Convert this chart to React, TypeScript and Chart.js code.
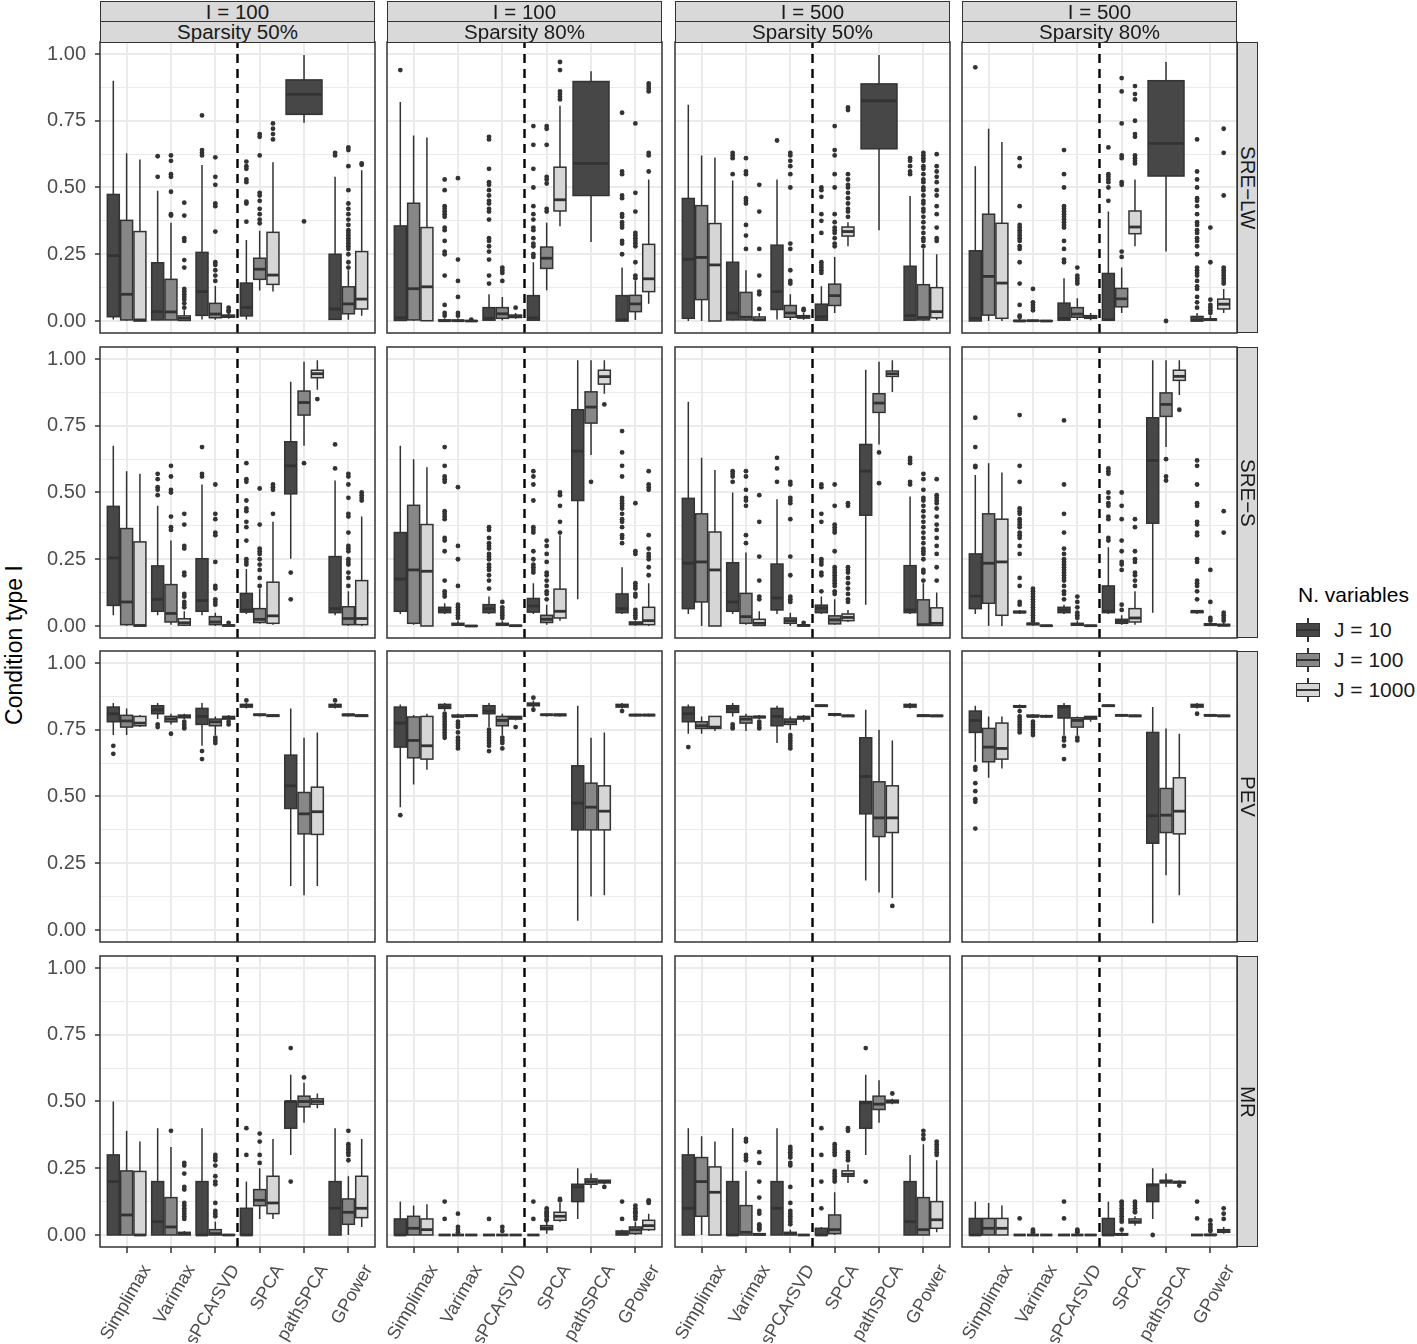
import React, { useEffect, useRef } from 'react';
import { Chart, registerables } from 'chart.js';

Chart.register(...registerables);

const FONT = "'Liberation Sans', Arial, Helvetica, sans-serif";
Chart.defaults.font.family = FONT;

const METHODS = ['Simplimax', 'Varimax', 'sPCArSVD', 'SPCA', 'pathSPCA', 'GPower'];
const GROUPS = ['J = 10', 'J = 100', 'J = 1000'];
const GROUP_FILLS = ['#474747', '#878787', '#D6D6D6'];
const ROW_LABELS = ['SRE\u2212LW', 'SRE\u2212S', 'PEV', 'MR'];
const COL_I = ['I = 100', 'I = 100', 'I = 500', 'I = 500'];
const COL_SPARSITY = ['Sparsity 50%', 'Sparsity 80%', 'Sparsity 50%', 'Sparsity 80%'];
const Y_MAJOR = [0, 0.25, 0.5, 0.75, 1];
const Y_GRID = [0, 0.125, 0.25, 0.375, 0.5, 0.625, 0.75, 0.875, 1];
const DIVIDER_AT = 3.5;

// [lower whisker, Q1, median, Q3, upper whisker, outliers], 3 per method (J = 10, 100, 1000)
type Box = [number, number, number, number, number, number[]] | null;

const sreLw_I100_S50: Box[] = [
  [0.006, 0.016, 0.245, 0.474, 0.9, []], [0, 0.004, 0.1, 0.377, 0.628, []], [0, 0, 0.004, 0.335, 0.605, []],
  [0.003, 0.004, 0.035, 0.218, 0.488, [0.617, 0.54]], [0.003, 0.004, 0.034, 0.156, 0.368, [0.62, 0.6, 0.55, 0.54, 0.484, 0.4, 0.395]], [0, 0.002, 0.01, 0.019, 0.04, [0.443, 0.395, 0.31, 0.3, 0.228, 0.2, 0.12, 0.11, 0.1, 0.09, 0.08, 0.066, 0.05]],
  [0.006, 0.021, 0.11, 0.257, 0.584, [0.77, 0.64, 0.63, 0.62]], [0.005, 0.012, 0.026, 0.066, 0.131, [0.613, 0.54, 0.51, 0.44, 0.43, 0.335, 0.22, 0.21, 0.19, 0.17, 0.15]], [0.008, 0.014, 0.018, 0.022, 0.03, [0.05, 0.04, 0.035]],
  [0.006, 0.019, 0.051, 0.142, 0.303, [0.597, 0.58, 0.57, 0.53, 0.52, 0.447, 0.44, 0.372]], [0.114, 0.156, 0.194, 0.235, 0.338, [0.7, 0.69, 0.62, 0.48, 0.47, 0.45, 0.42, 0.4, 0.38, 0.366]], [0.11, 0.137, 0.172, 0.332, 0.595, [0.74, 0.72, 0.7, 0.68]],
  [0.743, 0.774, 0.849, 0.903, 0.996, [0.373]], null, null,
  [0.005, 0.006, 0.045, 0.25, 0.54, [0.63, 0.62]], [0.005, 0.027, 0.064, 0.128, 0.19, [0.65, 0.64, 0.58, 0.49, 0.44, 0.42, 0.4, 0.38, 0.36, 0.34, 0.33, 0.32, 0.31, 0.3, 0.29, 0.28, 0.27, 0.25, 0.22, 0.2]], [0.02, 0.045, 0.082, 0.26, 0.565, [0.59, 0.585]],
];

const sreLw_I100_S80: Box[] = [
  [0, 0.002, 0.012, 0.356, 0.82, [0.94]], [0, 0.004, 0.121, 0.441, 0.695, []], [0, 0.001, 0.128, 0.35, 0.687, []],
  [0, 0, 0.001, 0.004, 0.01, [0.53, 0.49, 0.43, 0.42, 0.41, 0.4, 0.39, 0.35, 0.34, 0.3, 0.26, 0.25, 0.17, 0.06, 0.03, 0.02]], [0, 0, 0.001, 0.003, 0.01, [0.535, 0.23, 0.15, 0.09, 0.03, 0.02]], [0, 0, 0, 0.001, 0.003, [0.005]],
  [0, 0.003, 0.01, 0.05, 0.1, [0.69, 0.68, 0.57, 0.52, 0.51, 0.49, 0.47, 0.45, 0.44, 0.42, 0.41, 0.38, 0.31, 0.3, 0.28, 0.26, 0.23, 0.17, 0.14]], [0.002, 0.01, 0.027, 0.05, 0.09, [0.2, 0.19, 0.18, 0.15]], [0.008, 0.013, 0.018, 0.022, 0.03, [0.05]],
  [0, 0.003, 0.012, 0.095, 0.22, [0.73, 0.66, 0.57, 0.5, 0.43, 0.4, 0.38, 0.35, 0.34, 0.31, 0.29, 0.28, 0.25, 0.24]], [0.115, 0.197, 0.235, 0.277, 0.368, [0.73, 0.72, 0.66, 0.54, 0.53, 0.515, 0.42, 0.41]], [0.355, 0.412, 0.454, 0.576, 0.806, [0.97, 0.94, 0.86, 0.85, 0.84, 0.83]],
  [0.296, 0.47, 0.59, 0.897, 0.935, []], null, null,
  [0, 0, 0.004, 0.095, 0.2, [0.78, 0.56, 0.55, 0.47, 0.46, 0.4, 0.39, 0.37, 0.36, 0.35, 0.3, 0.29, 0.25]], [0.004, 0.035, 0.064, 0.096, 0.15, [0.74, 0.48, 0.41, 0.33, 0.32, 0.31, 0.3, 0.29, 0.28, 0.22, 0.17, 0.16]], [0.065, 0.11, 0.158, 0.287, 0.53, [0.89, 0.88, 0.87, 0.86, 0.63, 0.62, 0.56]],
];

const sreLw_I500_S50: Box[] = [
  [0, 0.01, 0.231, 0.459, 0.81, []], [0, 0.08, 0.238, 0.432, 0.62, []], [0, 0, 0.21, 0.365, 0.612, []],
  [0.002, 0.004, 0.03, 0.22, 0.526, [0.63, 0.62, 0.61, 0.55]], [0, 0.004, 0.014, 0.107, 0.19, [0.61, 0.56, 0.55, 0.46, 0.45, 0.44, 0.36, 0.32, 0.27]], [0, 0.002, 0.005, 0.015, 0.03, [0.51, 0.41, 0.27, 0.17, 0.11, 0.1, 0.045]],
  [0.006, 0.043, 0.11, 0.284, 0.53, [0.676]], [0.004, 0.014, 0.03, 0.058, 0.1, [0.63, 0.62, 0.6, 0.58, 0.55, 0.5, 0.29, 0.27, 0.19, 0.15, 0.14]], [0.005, 0.011, 0.015, 0.02, 0.03, [0.045, 0.04]],
  [0, 0.003, 0.015, 0.063, 0.13, [0.5, 0.49, 0.465, 0.4, 0.375, 0.33, 0.22, 0.21, 0.2, 0.19, 0.18]], [0.03, 0.058, 0.095, 0.138, 0.24, [0.73, 0.64, 0.62, 0.55, 0.5, 0.4, 0.37, 0.35, 0.34, 0.33, 0.31, 0.29, 0.28]], [0.28, 0.318, 0.335, 0.352, 0.37, [0.8, 0.79, 0.55, 0.53, 0.51, 0.5, 0.48, 0.46, 0.44, 0.42, 0.41, 0.39]],
  [0.34, 0.645, 0.825, 0.888, 0.996, []], null, null,
  [0, 0.003, 0.02, 0.205, 0.468, [0.61, 0.6, 0.58, 0.56, 0.55]], [0, 0.004, 0.013, 0.136, 0.27, [0.63, 0.62, 0.61, 0.6, 0.58, 0.57, 0.55, 0.53, 0.52, 0.5, 0.49, 0.47, 0.45, 0.44, 0.42, 0.41, 0.39, 0.37, 0.35, 0.33, 0.31, 0.3, 0.28]], [0.005, 0.012, 0.035, 0.125, 0.25, [0.625, 0.58, 0.56, 0.54, 0.52, 0.49, 0.47, 0.43, 0.4, 0.35, 0.31, 0.3]],
];

const sreLw_I500_S80: Box[] = [
  [0, 0, 0.01, 0.263, 0.58, [0.95]], [0, 0.022, 0.167, 0.4, 0.72, []], [0, 0.01, 0.142, 0.366, 0.67, []],
  [0, 0, 0, 0.002, 0.01, [0.61, 0.58, 0.43, 0.36, 0.35, 0.34, 0.33, 0.32, 0.31, 0.3, 0.28, 0.27, 0.22, 0.14, 0.06, 0.02, 0.015]], [0, 0, 0.001, 0.002, 0.005, [0.12, 0.07, 0.06, 0.05, 0.04]], [0, 0, 0, 0.001, 0.002, []],
  [0, 0.003, 0.01, 0.067, 0.16, [0.64, 0.55, 0.5, 0.43, 0.42, 0.41, 0.4, 0.39, 0.38, 0.37, 0.36, 0.35, 0.3, 0.27, 0.23, 0.22]], [0.004, 0.014, 0.026, 0.05, 0.085, [0.2, 0.17, 0.16, 0.15, 0.14]], [0.003, 0.01, 0.015, 0.02, 0.03, []],
  [0, 0.003, 0.005, 0.178, 0.41, [0.65, 0.55, 0.54, 0.53, 0.52, 0.5, 0.45]], [0.03, 0.053, 0.083, 0.122, 0.2, [0.91, 0.86, 0.74, 0.62, 0.61, 0.52, 0.51, 0.26, 0.24]], [0.28, 0.327, 0.352, 0.412, 0.53, [0.88, 0.85, 0.83, 0.75, 0.7, 0.69, 0.62, 0.61, 0.6, 0.59]],
  [0.26, 0.543, 0.665, 0.9, 0.97, [0]], null, null,
  [0, 0, 0.003, 0.017, 0.03, [0.68, 0.56, 0.53, 0.5, 0.46, 0.45, 0.43, 0.4, 0.37, 0.36, 0.34, 0.33, 0.31, 0.3, 0.28, 0.25, 0.2, 0.19, 0.18, 0.17, 0.15, 0.13, 0.12, 0.09, 0.07, 0.05]], [0, 0.003, 0.005, 0.008, 0.02, [0.35, 0.22, 0.08, 0.06, 0.05, 0.04, 0.03]], [0.03, 0.045, 0.063, 0.082, 0.12, [0.72, 0.63, 0.47, 0.2, 0.19, 0.18, 0.17, 0.16, 0.15, 0.14]],
];

const sreS_I100_S50: Box[] = [
  [0.04, 0.077, 0.255, 0.448, 0.675, []], [0, 0.005, 0.09, 0.365, 0.58, []], [0, 0, 0.002, 0.315, 0.57, []],
  [0.04, 0.055, 0.1, 0.225, 0.45, [0.57, 0.55, 0.52, 0.51, 0.49]], [0.005, 0.015, 0.047, 0.155, 0.32, [0.6, 0.56, 0.51, 0.5, 0.41, 0.37, 0.36]], [0, 0.003, 0.012, 0.027, 0.055, [0.42, 0.38, 0.3, 0.29, 0.2, 0.19, 0.12, 0.11, 0.09, 0.08, 0.07]],
  [0.04, 0.055, 0.095, 0.252, 0.53, [0.67, 0.57, 0.56]], [0, 0.005, 0.015, 0.035, 0.05, [0.53, 0.42, 0.4, 0.35, 0.34, 0.24, 0.15, 0.14, 0.1, 0.09, 0.08]], [0, 0, 0.002, 0.003, 0.005, [0.012]],
  [0.045, 0.052, 0.06, 0.122, 0.213, [0.61, 0.55, 0.54, 0.47, 0.44, 0.43, 0.39, 0.37, 0.32, 0.25, 0.24, 0.23]], [0.008, 0.013, 0.025, 0.065, 0.14, [0.515, 0.38, 0.29, 0.28, 0.27, 0.25, 0.23, 0.21, 0.18, 0.15]], [0.005, 0.01, 0.038, 0.164, 0.39, [0.53, 0.52, 0.51, 0.42]],
  [0.252, 0.495, 0.6, 0.69, 0.915, [0.2, 0.1]], [0.675, 0.79, 0.837, 0.88, 0.99, [0.61]], [0.885, 0.93, 0.945, 0.958, 0.995, [0.85]],
  [0.04, 0.05, 0.065, 0.26, 0.545, [0.68, 0.59]], [0, 0.005, 0.028, 0.072, 0.13, [0.57, 0.56, 0.53, 0.48, 0.42, 0.41, 0.35, 0.3, 0.29, 0.28, 0.25, 0.24, 0.23, 0.2, 0.18, 0.15]], [0, 0.005, 0.028, 0.17, 0.41, [0.5, 0.49, 0.48, 0.47]],
];

const sreS_I100_S80: Box[] = [
  [0.045, 0.055, 0.176, 0.35, 0.675, []], [0.005, 0.01, 0.21, 0.452, 0.625, []], [0, 0, 0.205, 0.38, 0.595, []],
  [0.045, 0.05, 0.06, 0.07, 0.085, [0.67, 0.6, 0.56, 0.55, 0.54, 0.43, 0.42, 0.41, 0.4, 0.33, 0.32, 0.28, 0.17, 0.13, 0.12, 0.11]], [0, 0.003, 0.006, 0.01, 0.02, [0.52, 0.3, 0.25, 0.15, 0.08, 0.07, 0.06, 0.05, 0.04, 0.03]], [0, 0, 0, 0.001, 0.003, []],
  [0.045, 0.05, 0.065, 0.08, 0.11, [0.37, 0.36, 0.33, 0.31, 0.3, 0.29, 0.27, 0.26, 0.25, 0.23, 0.22, 0.21, 0.19, 0.17, 0.14]], [0, 0.003, 0.005, 0.01, 0.02, [0.09, 0.07, 0.06, 0.05, 0.04, 0.03]], [0, 0, 0.001, 0.002, 0.003, []],
  [0.045, 0.052, 0.075, 0.103, 0.16, [0.58, 0.56, 0.53, 0.47, 0.37, 0.36, 0.35, 0.28, 0.25, 0.23, 0.22, 0.21, 0.2]], [0.005, 0.013, 0.025, 0.04, 0.08, [0.32, 0.3, 0.27, 0.24, 0.2, 0.19, 0.17, 0.15, 0.13, 0.12, 0.1]], [0.02, 0.03, 0.055, 0.138, 0.34, [0.5, 0.49, 0.45, 0.39, 0.35]],
  [0.1, 0.47, 0.655, 0.81, 0.995, []], [0.64, 0.76, 0.82, 0.877, 0.995, [0.54]], [0.87, 0.906, 0.934, 0.958, 0.995, [0.83]],
  [0.045, 0.05, 0.065, 0.12, 0.22, [0.73, 0.65, 0.6, 0.56, 0.48, 0.47, 0.46, 0.45, 0.44, 0.42, 0.4, 0.39, 0.37, 0.34, 0.33, 0.31]], [0, 0.005, 0.01, 0.015, 0.02, [0.46, 0.28, 0.27, 0.16, 0.15, 0.14, 0.12, 0.11, 0.06, 0.05, 0.04, 0.03]], [0, 0.005, 0.02, 0.07, 0.16, [0.58, 0.53, 0.52, 0.51, 0.34, 0.29, 0.27, 0.26, 0.25, 0.22, 0.19]],
];

const sreS_I500_S50: Box[] = [
  [0.045, 0.065, 0.235, 0.478, 0.84, []], [0, 0.09, 0.24, 0.42, 0.63, []], [0, 0, 0.21, 0.352, 0.584, []],
  [0.045, 0.055, 0.09, 0.237, 0.5, [0.58, 0.57, 0.56, 0.54]], [0.005, 0.01, 0.035, 0.122, 0.275, [0.58, 0.56, 0.51, 0.48, 0.47, 0.45, 0.34, 0.31]], [0, 0.002, 0.01, 0.025, 0.055, [0.49, 0.39, 0.26, 0.17, 0.11, 0.1]],
  [0.045, 0.06, 0.105, 0.232, 0.475, [0.63, 0.59, 0.54]], [0, 0.01, 0.02, 0.03, 0.05, [0.54, 0.53, 0.48, 0.47, 0.46, 0.4, 0.26, 0.19, 0.11, 0.1, 0.09]], [0, 0, 0.002, 0.004, 0.006, [0.012]],
  [0.045, 0.05, 0.067, 0.078, 0.11, [0.53, 0.52, 0.42, 0.39, 0.25, 0.24, 0.23, 0.2, 0.19, 0.13]], [0.005, 0.008, 0.023, 0.038, 0.1, [0.53, 0.45, 0.38, 0.37, 0.36, 0.35, 0.28, 0.22, 0.21, 0.2, 0.19, 0.18, 0.17, 0.16, 0.15, 0.13, 0.12]], [0.015, 0.02, 0.032, 0.045, 0.06, [0.46, 0.45, 0.22, 0.21, 0.2, 0.18, 0.16, 0.14, 0.12, 0.1, 0.09]],
  [0.08, 0.415, 0.58, 0.68, 0.96, []], [0.68, 0.8, 0.835, 0.87, 0.99, [0.65, 0.535]], [0.876, 0.935, 0.945, 0.955, 0.995, []],
  [0.045, 0.05, 0.06, 0.226, 0.485, [0.63, 0.62, 0.61, 0.54, 0.53]], [0, 0.002, 0.005, 0.098, 0.16, [0.57, 0.55, 0.51, 0.48, 0.47, 0.45, 0.43, 0.41, 0.39, 0.37, 0.35, 0.33, 0.31, 0.29, 0.28, 0.27, 0.25, 0.21, 0.2, 0.17]], [0, 0.002, 0.01, 0.068, 0.125, [0.55, 0.49, 0.48, 0.47, 0.46, 0.44, 0.41, 0.38, 0.36, 0.33, 0.3, 0.27, 0.22, 0.17]],
];

const sreS_I500_S80: Box[] = [
  [0.045, 0.065, 0.112, 0.27, 0.566, [0.78, 0.67, 0.6, 0.595]], [0, 0.085, 0.235, 0.42, 0.61, []], [0, 0.04, 0.24, 0.4, 0.575, []],
  [0.045, 0.05, 0.052, 0.055, 0.06, [0.79, 0.6, 0.54, 0.44, 0.43, 0.42, 0.4, 0.39, 0.38, 0.37, 0.35, 0.34, 0.33, 0.3, 0.27, 0.18, 0.15, 0.09, 0.08]], [0, 0.005, 0.008, 0.01, 0.015, [0.14, 0.13, 0.12, 0.11, 0.1, 0.09, 0.08, 0.07, 0.06, 0.05, 0.04, 0.03, 0.02]], [0, 0, 0.001, 0.002, 0.003, []],
  [0.045, 0.05, 0.06, 0.07, 0.08, [0.77, 0.53, 0.42, 0.35, 0.29, 0.27, 0.25, 0.24, 0.23, 0.22, 0.21, 0.2, 0.19, 0.18, 0.17, 0.15, 0.13, 0.12, 0.1]], [0, 0.003, 0.006, 0.01, 0.02, [0.11, 0.09, 0.07, 0.05, 0.04, 0.03]], [0, 0, 0.001, 0.002, 0.003, []],
  [0.045, 0.05, 0.055, 0.15, 0.295, [0.59, 0.58, 0.57, 0.5, 0.48, 0.46, 0.45, 0.41, 0.4, 0.33, 0.32]], [0.005, 0.01, 0.017, 0.025, 0.04, [0.5, 0.45, 0.4, 0.32, 0.28, 0.24, 0.23, 0.21, 0.08, 0.06]], [0.005, 0.015, 0.03, 0.065, 0.13, [0.4, 0.37, 0.28, 0.25, 0.24, 0.2, 0.19, 0.17, 0.15]],
  [0.05, 0.385, 0.62, 0.78, 0.995, []], [0.67, 0.785, 0.83, 0.873, 0.995, [0.625, 0.56, 0.545]], [0.865, 0.92, 0.935, 0.958, 0.995, [0.81]],
  [0.045, 0.05, 0.055, 0.056, 0.06, [0.62, 0.6, 0.53, 0.46, 0.45, 0.39, 0.38, 0.35, 0.34, 0.25, 0.24, 0.17, 0.16, 0.15, 0.13, 0.1]], [0, 0.003, 0.005, 0.008, 0.012, [0.21, 0.09, 0.03, 0.02]], [0, 0.001, 0.003, 0.006, 0.015, [0.43, 0.35, 0.05, 0.04, 0.03, 0.02]],
];

const pev_I100_S50: Box[] = [
  [0.73, 0.78, 0.81, 0.835, 0.85, [0.69, 0.66]], [0.73, 0.76, 0.783, 0.804, 0.83, []], [0.76, 0.765, 0.775, 0.8, 0.805, []],
  [0.79, 0.81, 0.825, 0.84, 0.85, [0.77, 0.76]], [0.77, 0.78, 0.79, 0.8, 0.81, [0.735]], [0.79, 0.795, 0.8, 0.805, 0.81, [0.78, 0.77, 0.76, 0.755]],
  [0.69, 0.77, 0.8, 0.83, 0.85, [0.67, 0.64]], [0.73, 0.765, 0.78, 0.79, 0.8, [0.72, 0.71, 0.7]], [0.785, 0.79, 0.795, 0.8, 0.805, [0.78, 0.77]],
  [0.83, 0.835, 0.84, 0.845, 0.85, [0.86]], [0.8, 0.805, 0.806, 0.808, 0.81, []], [0.8, 0.8, 0.803, 0.805, 0.807, []],
  [0.165, 0.455, 0.54, 0.655, 0.83, []], [0.13, 0.36, 0.435, 0.515, 0.72, []], [0.165, 0.358, 0.443, 0.535, 0.74, []],
  [0.83, 0.835, 0.84, 0.845, 0.85, [0.86]], [0.8, 0.803, 0.806, 0.808, 0.81, []], [0.8, 0.8, 0.803, 0.805, 0.807, []],
];

const pev_I100_S80: Box[] = [
  [0.46, 0.685, 0.775, 0.835, 0.845, [0.43]], [0.545, 0.645, 0.71, 0.798, 0.805, []], [0.6, 0.64, 0.69, 0.8, 0.81, []],
  [0.82, 0.83, 0.835, 0.845, 0.85, [0.81, 0.8, 0.79, 0.78, 0.77, 0.76, 0.75, 0.74, 0.73, 0.72]], [0.795, 0.8, 0.8, 0.805, 0.81, [0.78, 0.77, 0.76, 0.74, 0.72, 0.71, 0.7, 0.69, 0.68]], [0.798, 0.8, 0.803, 0.805, 0.807, []],
  [0.76, 0.81, 0.82, 0.84, 0.85, [0.75, 0.74, 0.73, 0.72, 0.71, 0.7, 0.69, 0.67]], [0.73, 0.765, 0.785, 0.8, 0.81, [0.72, 0.71, 0.7, 0.68]], [0.785, 0.79, 0.795, 0.8, 0.8, [0.76]],
  [0.83, 0.84, 0.845, 0.85, 0.86, [0.87, 0.825]], [0.8, 0.805, 0.806, 0.808, 0.81, []], [0.8, 0.803, 0.806, 0.808, 0.81, []],
  [0.035, 0.375, 0.475, 0.615, 0.84, []], [0.125, 0.375, 0.46, 0.55, 0.72, []], [0.13, 0.375, 0.445, 0.54, 0.74, []],
  [0.83, 0.835, 0.84, 0.845, 0.85, [0.82]], [0.8, 0.803, 0.805, 0.807, 0.81, []], [0.8, 0.803, 0.805, 0.807, 0.81, []],
];

const pev_I500_S50: Box[] = [
  [0.735, 0.78, 0.81, 0.835, 0.845, [0.685]], [0.735, 0.755, 0.765, 0.78, 0.8, []], [0.745, 0.755, 0.76, 0.8, 0.8, []],
  [0.8, 0.815, 0.83, 0.84, 0.85, [0.77, 0.76, 0.755]], [0.745, 0.775, 0.79, 0.8, 0.81, []], [0.79, 0.795, 0.798, 0.8, 0.805, [0.78, 0.77, 0.76, 0.755]],
  [0.7, 0.765, 0.8, 0.83, 0.84, []], [0.75, 0.77, 0.78, 0.79, 0.8, [0.73, 0.72, 0.71, 0.7, 0.69, 0.68]], [0.78, 0.79, 0.795, 0.8, 0.805, []],
  [0.835, 0.838, 0.84, 0.842, 0.845, []], [0.8, 0.805, 0.807, 0.81, 0.812, []], [0.798, 0.8, 0.802, 0.804, 0.806, []],
  [0.185, 0.435, 0.575, 0.72, 0.825, []], [0.14, 0.35, 0.42, 0.555, 0.75, []], [0.12, 0.365, 0.42, 0.54, 0.71, [0.09]],
  [0.83, 0.835, 0.84, 0.845, 0.85, []], [0.8, 0.8, 0.803, 0.805, 0.808, []], [0.8, 0.8, 0.802, 0.804, 0.806, []],
];

const pev_I500_S80: Box[] = [
  [0.63, 0.74, 0.785, 0.82, 0.84, [0.61, 0.6, 0.55, 0.52, 0.49, 0.48, 0.38]], [0.57, 0.63, 0.685, 0.755, 0.8, []], [0.605, 0.64, 0.68, 0.775, 0.8, []],
  [0.83, 0.835, 0.837, 0.84, 0.845, [0.82, 0.8, 0.79, 0.78, 0.77, 0.76, 0.75, 0.74]], [0.795, 0.8, 0.8, 0.805, 0.808, [0.78, 0.77, 0.76, 0.75, 0.74, 0.73]], [0.795, 0.8, 0.8, 0.803, 0.806, []],
  [0.73, 0.794, 0.835, 0.84, 0.85, [0.72, 0.71, 0.69, 0.64]], [0.73, 0.76, 0.785, 0.795, 0.8, [0.72, 0.71]], [0.78, 0.79, 0.795, 0.8, 0.8, []],
  [0.835, 0.838, 0.84, 0.842, 0.845, []], [0.8, 0.802, 0.804, 0.806, 0.808, []], [0.8, 0.8, 0.802, 0.804, 0.806, []],
  [0.025, 0.325, 0.428, 0.74, 0.835, []], [0.205, 0.365, 0.43, 0.53, 0.755, []], [0.13, 0.36, 0.445, 0.57, 0.735, []],
  [0.83, 0.835, 0.84, 0.845, 0.85, [0.81]], [0.8, 0.802, 0.804, 0.806, 0.808, []], [0.8, 0.8, 0.802, 0.804, 0.806, []],
];

const mr_I100_S50: Box[] = [
  [0, 0, 0.2, 0.3, 0.5, []], [0, 0, 0.075, 0.24, 0.39, []], [0, 0, 0, 0.238, 0.35, []],
  [0, 0, 0.05, 0.2, 0.4, []], [0, 0, 0.03, 0.14, 0.33, [0.39]], [0, 0, 0.005, 0.01, 0.015, [0.27, 0.26, 0.23, 0.18, 0.17, 0.12, 0.11, 0.1, 0.09, 0.08, 0.07, 0.06]],
  [0, 0, 0, 0.2, 0.4, []], [0, 0, 0.005, 0.02, 0.05, [0.3, 0.29, 0.28, 0.26, 0.22, 0.2, 0.19, 0.12, 0.09, 0.08, 0.07]], [0, 0, 0, 0.001, 0.002, []],
  [0, 0, 0, 0.1, 0.2, [0.4, 0.3]], [0.06, 0.11, 0.13, 0.17, 0.25, [0.38, 0.35, 0.3, 0.27]], [0.06, 0.08, 0.12, 0.22, 0.36, []],
  [0.3, 0.4, 0.5, 0.5, 0.6, [0.7, 0.2]], [0.42, 0.48, 0.5, 0.52, 0.57, [0.59]], [0.475, 0.49, 0.5, 0.51, 0.53, []],
  [0, 0, 0.1, 0.2, 0.4, []], [0, 0.04, 0.085, 0.135, 0.22, [0.39, 0.34, 0.33, 0.32, 0.31, 0.3, 0.28]], [0.03, 0.065, 0.1, 0.22, 0.36, []],
];

const mr_I100_S80: Box[] = [
  [0, 0, 0, 0.06, 0.125, []], [0, 0, 0.025, 0.07, 0.11, []], [0, 0, 0.02, 0.06, 0.115, []],
  [0, 0, 0, 0, 0, [0.125, 0.06]], [0, 0, 0, 0, 0, [0.08, 0.03, 0.02, 0.01]], [0, 0, 0, 0, 0, []],
  [0, 0, 0, 0, 0, [0.06]], [0, 0, 0, 0, 0, [0.03, 0.015]], [0, 0, 0, 0, 0, []],
  [0, 0, 0, 0, 0, [0.125, 0.06]], [0.005, 0.02, 0.025, 0.035, 0.05, [0.1, 0.09, 0.085, 0.08, 0.075, 0.07, 0.06, 0.055]], [0.05, 0.055, 0.07, 0.085, 0.12, [0.13, 0.135]],
  [0.06, 0.125, 0.18, 0.19, 0.25, []], [0.175, 0.19, 0.2, 0.21, 0.23, []], [0.19, 0.195, 0.2, 0.205, 0.205, [0.18]],
  [0, 0, 0.005, 0.015, 0.02, [0.125, 0.06]], [0, 0.005, 0.02, 0.03, 0.05, [0.11, 0.1, 0.09, 0.085, 0.08, 0.07, 0.06]], [0.015, 0.02, 0.035, 0.055, 0.08, [0.13, 0.125, 0.12]],
];

const mr_I500_S50: Box[] = [
  [0, 0, 0.1, 0.3, 0.4, []], [0, 0.07, 0.2, 0.29, 0.37, []], [0, 0, 0.16, 0.255, 0.35, []],
  [0, 0, 0, 0.2, 0.4, []], [0, 0, 0.01, 0.11, 0.24, [0.36, 0.35, 0.3, 0.29, 0.28]], [0, 0, 0.002, 0.005, 0.008, [0.31, 0.27, 0.2, 0.14, 0.09, 0.08, 0.04, 0.035, 0.03, 0.025, 0.02]],
  [0, 0, 0.1, 0.2, 0.4, []], [0, 0, 0.005, 0.01, 0.02, [0.33, 0.32, 0.31, 0.3, 0.29, 0.27, 0.26, 0.18, 0.12, 0.09, 0.08, 0.07, 0.06, 0.05, 0.04]], [0, 0, 0, 0, 0, []],
  [0, 0, 0, 0.025, 0.03, [0.4, 0.3, 0.2, 0.1]], [0, 0.005, 0.02, 0.075, 0.16, [0.34, 0.33, 0.32, 0.31, 0.3, 0.24, 0.23, 0.22, 0.21, 0.2]], [0.195, 0.22, 0.227, 0.24, 0.265, [0.4, 0.39, 0.31, 0.3, 0.29, 0.28]],
  [0.3, 0.4, 0.495, 0.5, 0.6, [0.7, 0.2]], [0.42, 0.47, 0.49, 0.52, 0.58, []], [0.49, 0.495, 0.5, 0.505, 0.51, [0.53]],
  [0, 0, 0.05, 0.2, 0.3, []], [0, 0, 0.02, 0.14, 0.34, [0.39, 0.375, 0.36]], [0.01, 0.025, 0.057, 0.125, 0.28, [0.35, 0.34, 0.33, 0.32, 0.31, 0.3]],
];

const mr_I500_S80: Box[] = [
  [0, 0, 0, 0.062, 0.125, []], [0, 0, 0.025, 0.062, 0.12, []], [0, 0, 0.025, 0.062, 0.11, []],
  [0, 0, 0, 0, 0, [0.062]], [0, 0, 0, 0, 0, [0.02, 0.015, 0.01]], [0, 0, 0, 0, 0, []],
  [0, 0, 0, 0, 0, [0.125, 0.062]], [0, 0, 0, 0, 0, [0.02, 0.015, 0.01]], [0, 0, 0, 0, 0, []],
  [0, 0, 0, 0.062, 0.125, []], [0, 0, 0.002, 0.005, 0.01, [0.125, 0.12, 0.11, 0.1, 0.09, 0.08, 0.07, 0.06, 0.05, 0.02]], [0.035, 0.045, 0.05, 0.06, 0.07, [0.125, 0.12, 0.11, 0.1, 0.09, 0.085]],
  [0.06, 0.125, 0.187, 0.19, 0.25, [0]], [0.18, 0.195, 0.2, 0.205, 0.23, []], [0.19, 0.195, 0.198, 0.2, 0.205, [0.185]],
  [0, 0, 0, 0, 0, [0.125, 0.062]], [0, 0, 0, 0.002, 0.005, [0.055, 0.04, 0.03, 0.02, 0.015]], [0.005, 0.01, 0.015, 0.02, 0.03, [0.1, 0.08, 0.06]],
];

const PANELS: Box[][][] = [
  [sreLw_I100_S50, sreLw_I100_S80, sreLw_I500_S50, sreLw_I500_S80],
  [sreS_I100_S50, sreS_I100_S80, sreS_I500_S50, sreS_I500_S80],
  [pev_I100_S50, pev_I100_S80, pev_I500_S50, pev_I500_S80],
  [mr_I100_S50, mr_I100_S80, mr_I500_S50, mr_I500_S80],
];

// page layout (pixels)
const PANEL_LEFT = [100, 387, 675, 962];
const PANEL_TOP = [42, 347, 651, 956];
const PANEL_W = 275;
const PANEL_H = 291;
const Y_AXIS_W = 70;
const X_AXIS_H = 96;
const PAD = 24;
const LINE = '#333333';

// dodge like ggplot: boxes share 0.9 of a category slot
const slotsFor = (boxes: Box[], m: number) => {
  const present = [0, 1, 2].filter((g) => boxes[m * 3 + g]);
  const slot = 0.9 / present.length;
  return present.map((g, i) => ({ g, center: m + 1 - 0.45 + slot * (i + 0.5), half: (slot * 0.9) / 2 }));
};

const isMajor = (v: number) => Y_MAJOR.some((t) => Math.abs(t - v) < 1e-6);

const makeBoxPlugin = (boxes: Box[]) => ({
  id: 'boxes',
  beforeDatasetsDraw(chart: any) {
    const { ctx, chartArea, scales } = chart;
    const xs = scales.x;
    const ys = scales.y;
    ctx.save();
    ctx.beginPath();
    ctx.rect(chartArea.left, chartArea.top, chartArea.right - chartArea.left, chartArea.bottom - chartArea.top);
    ctx.clip();
    ctx.strokeStyle = LINE;
    METHODS.forEach((_, m) => {
      slotsFor(boxes, m).forEach(({ g, center, half }) => {
        const b = boxes[m * 3 + g];
        if (!b) return;
        const [lo, q1, med, q3, hi] = b;
        const cx = xs.getPixelForValue(center);
        const x0 = xs.getPixelForValue(center - half);
        const x1 = xs.getPixelForValue(center + half);
        const yTop = ys.getPixelForValue(q3);
        const yBot = ys.getPixelForValue(q1);
        ctx.lineWidth = 1.5;
        ctx.beginPath();
        ctx.moveTo(cx, ys.getPixelForValue(hi));
        ctx.lineTo(cx, yTop);
        ctx.moveTo(cx, yBot);
        ctx.lineTo(cx, ys.getPixelForValue(lo));
        ctx.stroke();
        ctx.fillStyle = GROUP_FILLS[g];
        ctx.fillRect(x0, yTop, x1 - x0, yBot - yTop);
        ctx.strokeRect(x0, yTop, x1 - x0, yBot - yTop);
        ctx.lineWidth = 2.8;
        ctx.beginPath();
        ctx.moveTo(x0, ys.getPixelForValue(med));
        ctx.lineTo(x1, ys.getPixelForValue(med));
        ctx.stroke();
      });
    });
    ctx.restore();
  },
  afterDatasetsDraw(chart: any) {
    const { ctx, chartArea, scales } = chart;
    const xd = scales.x.getPixelForValue(DIVIDER_AT);
    ctx.save();
    ctx.strokeStyle = '#000000';
    ctx.lineWidth = 2.4;
    ctx.setLineDash([9, 6]);
    ctx.beginPath();
    ctx.moveTo(xd, chartArea.bottom);
    ctx.lineTo(xd, chartArea.top);
    ctx.stroke();
    ctx.setLineDash([]);
    ctx.strokeStyle = LINE;
    ctx.lineWidth = 1.5;
    ctx.strokeRect(chartArea.left, chartArea.top, chartArea.right - chartArea.left, chartArea.bottom - chartArea.top);
    ctx.restore();
  },
});

function Panel({ r, c }: { r: number; c: number }) {
  const ref = useRef<HTMLCanvasElement>(null);
  const boxes = PANELS[r][c];
  const padL = c === 0 ? Y_AXIS_W : 60;
  const padB = r === 3 ? X_AXIS_H : PAD;
  const width = PANEL_W + padL + PAD;
  const height = PANEL_H + PAD + padB;

  useEffect(() => {
    if (!ref.current) return;
    const chart = new Chart(ref.current, {
      type: 'scatter',
      data: {
        datasets: GROUPS.map((label, g) => ({
          label,
          data: METHODS.flatMap((_, m) => {
            const slot = slotsFor(boxes, m).find((s) => s.g === g);
            const b = boxes[m * 3 + g];
            return slot && b ? b[5].map((v) => ({ x: slot.center, y: v })) : [];
          }),
          pointRadius: 2.4,
          pointBackgroundColor: LINE,
          pointBorderWidth: 0,
        })),
      },
      options: {
        responsive: false,
        animation: false,
        events: [],
        layout: {
          padding: { left: c === 0 ? 0 : padL, right: PAD, top: PAD, bottom: r === 3 ? 0 : PAD },
        },
        plugins: { legend: { display: false }, tooltip: { enabled: false } },
        scales: {
          x: {
            type: 'linear',
            min: 0.4,
            max: 6.6,
            afterBuildTicks: (s: any) => {
              s.ticks = METHODS.map((_, i) => ({ value: i + 1 }));
            },
            afterFit: (s: any) => {
              s.height = r === 3 ? X_AXIS_H : 0;
            },
            border: { display: false },
            grid: { color: '#EBEBEB', lineWidth: 2, drawTicks: r === 3, tickLength: 6, tickColor: LINE, tickWidth: 1.5 },
            ticks: {
              display: r === 3,
              autoSkip: false,
              minRotation: 60,
              maxRotation: 60,
              padding: 8,
              labelOffset: 20,
              color: '#4D4D4D',
              font: { size: 18, family: FONT },
              callback: (v: any) => METHODS[Number(v) - 1] ?? '',
            },
          },
          y: {
            type: 'linear',
            min: -0.045,
            max: 1.045,
            afterBuildTicks: (s: any) => {
              s.ticks = Y_GRID.map((value) => ({ value }));
            },
            afterFit: (s: any) => {
              s.width = c === 0 ? Y_AXIS_W : 0;
            },
            border: { display: false },
            grid: {
              color: '#EBEBEB',
              lineWidth: (ctx: any) => (ctx.tick && isMajor(ctx.tick.value) ? 2 : 1),
              drawTicks: c === 0,
              tickLength: 5,
              tickWidth: 1.5,
              tickColor: (ctx: any) => (ctx.tick && isMajor(ctx.tick.value) ? LINE : 'rgba(0,0,0,0)'),
            },
            ticks: {
              display: c === 0,
              autoSkip: false,
              padding: 9,
              color: '#4D4D4D',
              font: { size: 20, family: FONT },
              callback: (v: any) => (isMajor(Number(v)) ? Number(v).toFixed(2) : ''),
            },
          },
        },
      },
      plugins: [makeBoxPlugin(boxes)],
    } as any);
    return () => chart.destroy();
  }, [r, c, boxes]);

  return (
    <canvas
      ref={ref}
      width={width}
      height={height}
      style={{ position: 'absolute', left: PANEL_LEFT[c] - padL, top: PANEL_TOP[r] - PAD, width, height }}
    />
  );
}

const stripStyle: React.CSSProperties = {
  position: 'absolute',
  background: '#D9D9D9',
  border: `1.5px solid ${LINE}`,
  boxSizing: 'border-box',
  color: '#1A1A1A',
  fontSize: 20.5,
  fontFamily: FONT,
  display: 'flex',
  alignItems: 'center',
  justifyContent: 'center',
  whiteSpace: 'nowrap',
  overflow: 'hidden',
  lineHeight: 1,
};

function LegendKey({ fill, top }: { fill: string; top: number }) {
  return (
    <div style={{ position: 'absolute', left: 1296, top, width: 24, height: 24 }}>
      <div style={{ position: 'absolute', left: 11.25, top: 0, width: 1.5, height: 24, background: LINE }} />
      <div style={{ position: 'absolute', left: 0, top: 5, width: 24, height: 14, background: fill, border: `1.5px solid ${LINE}`, boxSizing: 'border-box' }} />
      <div style={{ position: 'absolute', left: 0, top: 10.75, width: 24, height: 2.5, background: LINE }} />
    </div>
  );
}

export default function App() {
  return (
    <div style={{ position: 'absolute', left: 0, top: 0, width: 1417, height: 1344, background: '#fff', overflow: 'hidden', fontFamily: FONT }}>
      {PANELS.map((row, r) => row.map((_, c) => <Panel key={`${r}-${c}`} r={r} c={c} />))}
      {COL_I.map((label, c) => (
        <React.Fragment key={`strip-${c}`}>
          <div style={{ ...stripStyle, left: PANEL_LEFT[c], top: 1, width: PANEL_W, height: 21.5 }}>{label}</div>
          <div style={{ ...stripStyle, left: PANEL_LEFT[c], top: 21, width: PANEL_W, height: 21.5 }}>{COL_SPARSITY[c]}</div>
        </React.Fragment>
      ))}
      {ROW_LABELS.map((label, r) => (
        <div
          key={`rstrip-${r}`}
          style={{ ...stripStyle, left: PANEL_LEFT[3] + PANEL_W, top: PANEL_TOP[r], width: 21, height: PANEL_H, writingMode: 'vertical-rl' }}
        >
          {label}
        </div>
      ))}
      <div
        style={{
          position: 'absolute',
          left: 14,
          top: 645,
          transform: 'translate(-50%, -50%) rotate(-90deg)',
          fontSize: 23,
          whiteSpace: 'nowrap',
          color: '#000',
        }}
      >
        Condition type I
      </div>
      <div style={{ position: 'absolute', left: 1298, top: 583, fontSize: 21, lineHeight: '24px', color: '#000', whiteSpace: 'nowrap' }}>
        N. variables
      </div>
      {GROUPS.map((label, g) => (
        <React.Fragment key={`leg-${g}`}>
          <LegendKey fill={GROUP_FILLS[g]} top={618 + g * 30} />
          <div style={{ position: 'absolute', left: 1334, top: 618 + g * 30, fontSize: 21, lineHeight: '24px', color: '#1A1A1A', whiteSpace: 'nowrap' }}>
            {label}
          </div>
        </React.Fragment>
      ))}
    </div>
  );
}
